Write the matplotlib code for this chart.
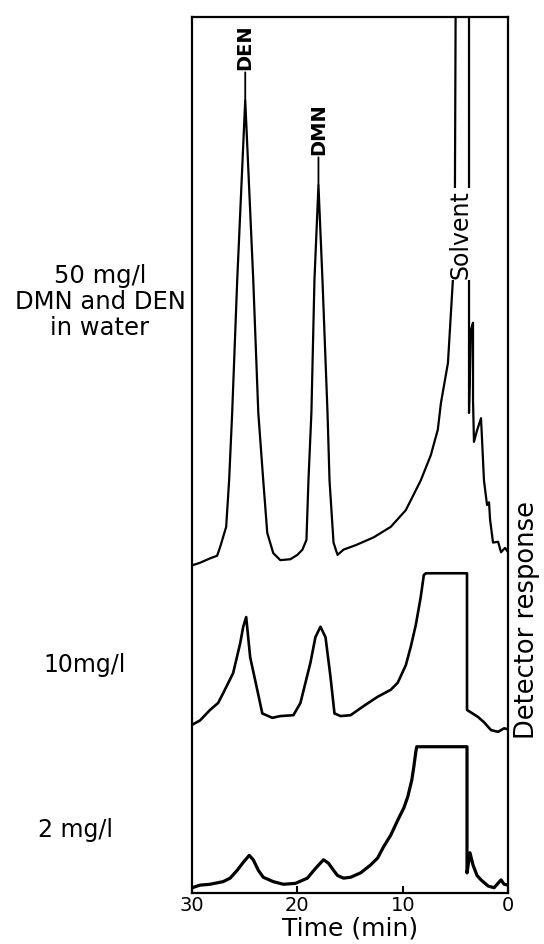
import matplotlib
matplotlib.use("Agg")
import matplotlib.pyplot as plt

# Zeit (min) und Detektorsignal (willkuerliche Einheiten, 0-100 = Skalenbereich)
t_50 = [30.0, 29.24, 28.29, 27.62, 27.33, 26.76, 26.48, 26.19, 25.71, 24.95,
        24.19, 23.71, 23.24, 22.86, 22.29, 21.62, 20.67, 20.0, 19.52, 19.14,
        18.95, 18.67, 18.38, 18.0, 17.62, 17.14, 16.95, 16.57, 16.19, 15.62,
        14.48, 12.76, 11.14, 9.71, 8.29, 7.33, 6.67, 6.38, 5.71, 5.24, 5.05,
        4.95, 3.71, 3.71, 3.52, 3.33, 3.33, 3.24, 2.95, 2.57, 2.29, 2.0, 1.81,
        1.71, 1.43, 0.95, 0.67, 0.29, 0.0]
r_50 = [37.4, 37.7, 38.2, 38.5, 39.5, 41.8, 47.1, 54.8, 70.0, 90.5,
        70.0, 54.8, 47.1, 41.1, 38.8, 38.0, 38.1, 38.6, 39.2, 40.3,
        47.1, 54.8, 70.0, 80.8, 70.0, 54.8, 47.1, 40.0, 38.6, 39.2,
        39.7, 40.6, 41.8, 43.7, 47.1, 50.0, 52.9, 55.9, 60.5, 70.0, 79.1,
        110.0, 110.0, 54.8, 64.3, 65.1, 56.3, 51.5, 52.8, 54.2, 47.1, 44.3, 44.6,
        42.6, 40.0, 40.1, 38.9, 39.4, 38.9]

t_10 = [30.0, 29.24, 28.29, 27.52, 27.05, 26.10, 25.43, 25.14, 24.86, 24.48,
        23.81, 23.33, 22.38, 21.62, 20.38, 19.71, 18.76, 18.29, 17.81, 17.33,
        16.86, 16.48, 15.90, 14.95, 13.52, 12.38, 11.14, 10.48, 9.71, 9.24,
        8.76, 8.29, 8.0, 7.81, 3.90, 3.90, 2.86, 2.29, 1.62, 0.95, 0.38, 0.0]
r_10 = [19.2, 19.7, 20.9, 21.7, 22.8, 25.1, 28.5, 30.4, 31.5, 26.9,
        23.2, 20.5, 20.0, 20.2, 20.3, 21.7, 26.3, 29.2, 30.4, 29.2,
        24.7, 20.5, 20.2, 20.3, 21.5, 22.4, 23.2, 24.0, 26.0, 28.1,
        30.6, 33.8, 36.3, 36.5, 36.5, 20.9, 20.1, 19.5, 18.6, 18.4, 18.8, 18.7]

t_2 = [30.0, 29.24, 28.29, 27.05, 26.38, 25.71, 25.14, 24.57, 24.19, 23.71,
       23.24, 22.29, 21.33, 20.19, 19.05, 18.29, 17.52, 17.05, 16.57, 16.19,
       15.62, 14.95, 14.0, 13.05, 12.38, 11.81, 11.14, 10.48, 9.90, 9.52,
       9.14, 8.95, 8.76, 8.67, 3.90, 3.90, 3.62, 3.33, 2.95, 2.57, 1.90,
       1.33, 0.67, 0.38, 0.0]
r_2 = [0.6, 0.9, 1.0, 1.3, 1.7, 2.6, 3.5, 4.3, 3.8, 2.6,
       1.8, 1.3, 1.0, 1.1, 1.7, 2.8, 3.8, 3.4, 2.6, 2.0,
       1.7, 1.8, 2.3, 3.2, 4.0, 5.3, 6.6, 8.3, 9.7, 11.0,
       12.9, 14.4, 16.1, 16.7, 16.7, 2.3, 4.6, 3.2, 2.0, 1.5, 0.8,
       0.6, 1.5, 1.0, 0.9]

# Peaks im 50 mg/l Lauf: (Name, Zeit, Signal)
peaks = [("DEN", 24.95, 90.5), ("DMN", 18.0, 80.8)]
solvent_pos = (4.48, 75.2)

fig = plt.figure(figsize=(5.44, 9.44), dpi=100)
ax = fig.add_axes([0.353, 0.054, 0.581, 0.928])

ax.plot(t_50, r_50, color="black", lw=1.6, solid_joinstyle="round")
ax.plot(t_10, r_10, color="black", lw=1.9, solid_joinstyle="round")
ax.plot(t_2, r_2, color="black", lw=2.3, solid_joinstyle="round")

ax.set_xlim(30, 0)
ax.set_ylim(0, 100)
ax.set_xticks([30, 20, 10, 0])
ax.set_yticks([])
ax.tick_params(axis="x", direction="in", length=5, width=1.5, labelsize=14, pad=2)
for sp in ax.spines.values():
    sp.set_linewidth(1.6)
ax.set_xlabel("Time (min)", fontsize=18, labelpad=1)

# Peakbeschriftungen
for name, tp, rp in peaks:
    ax.annotate(name, xy=(tp, rp), xytext=(tp, rp + 3.5), rotation=90,
                ha="center", va="bottom", fontsize=14, fontweight="bold",
                arrowprops=dict(arrowstyle="-", lw=1.3, shrinkA=0, shrinkB=0))
ax.text(solvent_pos[0], solvent_pos[1], "Solvent", rotation=90, ha="center",
        va="center", fontsize=17,
        bbox=dict(facecolor="white", edgecolor="none", pad=1.0))

# Beschriftung der Konzentrationen
fig.text(100 / 544, 1 - 302 / 944, "50 mg/l\nDMN and DEN\nin water",
         ha="center", va="center", fontsize=17.5, linespacing=1.1)
fig.text(85 / 544, 1 - 665 / 944, "10mg/l", ha="center", va="center", fontsize=17)
fig.text(75 / 544, 1 - 830 / 944, "2 mg/l", ha="center", va="center", fontsize=17)
fig.text(527 / 544, 1 - 620 / 944, "Detector response", rotation=90,
         ha="center", va="center", fontsize=18.5)

plt.savefig("out.png", dpi=100)
